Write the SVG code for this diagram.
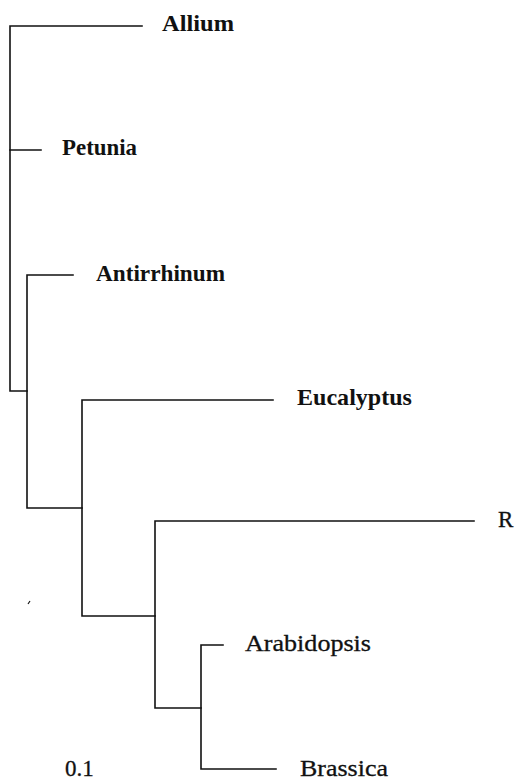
<svg xmlns="http://www.w3.org/2000/svg" width="517" height="780" viewBox="0 0 517 780">
<style>
.b{fill:none;stroke:#111;stroke-width:1.6;stroke-linecap:square}
.tb{font-family:'Liberation Serif','Times New Roman',Times,serif;font-size:23px;font-weight:bold;fill:#111}
.tr{font-family:'Liberation Serif','Times New Roman',Times,serif;font-size:23px;fill:#111;stroke:#111;stroke-width:0.3}
</style>
<rect width="517" height="780" fill="#fff"/>
<g id="connectors">
<path class="b" d="M142,26 H10 V391 H27"/>
<path class="b" d="M10,150 H41"/>
<path class="b" d="M73,275 H27 V508 H82"/>
<path class="b" d="M273,400 H82 V616 H155"/>
<path class="b" d="M474,521 H155 V708 H201"/>
<path class="b" d="M223,645 H201 V769 H276"/>
<path d="M28,604 L30,601" stroke="#111" stroke-width="1.2"/>
</g>
<g id="allium"><text class="tb" x="162" y="31" textLength="72" lengthAdjust="spacingAndGlyphs">Allium</text></g>
<g id="petunia"><text class="tb" x="62" y="155" textLength="75" lengthAdjust="spacingAndGlyphs">Petunia</text></g>
<g id="antirrhinum"><text class="tb" x="96" y="281" textLength="129" lengthAdjust="spacingAndGlyphs">Antirrhinum</text></g>
<g id="eucalyptus"><text class="tb" x="297" y="405" textLength="115" lengthAdjust="spacingAndGlyphs">Eucalyptus</text></g>
<g id="r"><text class="tr" x="498" y="527">R</text></g>
<g id="arabidopsis"><text class="tr" x="245" y="651" textLength="126" lengthAdjust="spacingAndGlyphs">Arabidopsis</text></g>
<g id="brassica"><text class="tr" x="300" y="776" textLength="88" lengthAdjust="spacingAndGlyphs">Brassica</text></g>
<g id="scale"><text class="tr" x="65" y="776">0.1</text></g>
</svg>
